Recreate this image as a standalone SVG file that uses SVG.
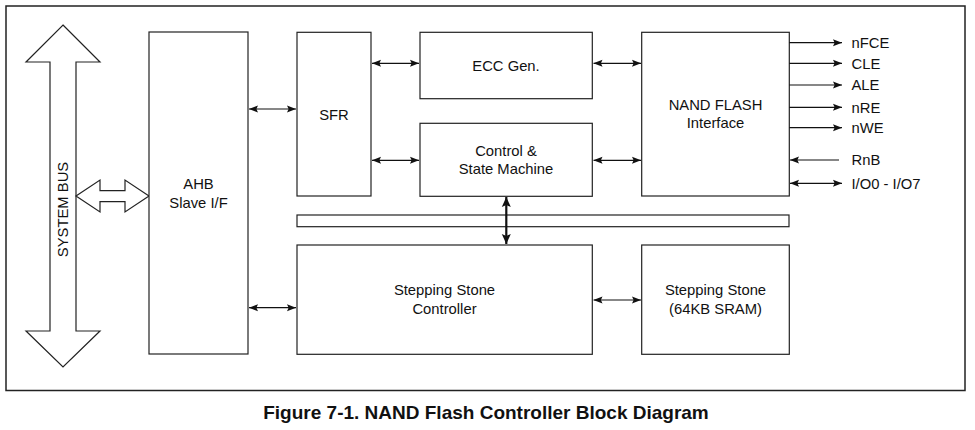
<svg xmlns="http://www.w3.org/2000/svg" width="975" height="430" viewBox="0 0 975 430">
<style>
.box{fill:#fff;stroke:#222;stroke-width:1.2}
.t{font-family:"Liberation Sans",Arial,sans-serif;font-size:14.8px;fill:#111;text-anchor:middle}
.s{font-family:"Liberation Sans",Arial,sans-serif;font-size:14.8px;fill:#111}
.ln{stroke:#111;stroke-width:1.2;fill:none}
.thick{stroke:#111;stroke-width:2.2;fill:none}
.cap{font-family:"Liberation Sans",Arial,sans-serif;font-size:19px;font-weight:bold;fill:#111;text-anchor:middle}
</style>
<defs>
<marker id="ah" markerUnits="userSpaceOnUse" markerWidth="9" markerHeight="9" viewBox="0 0 9 9" refX="9" refY="4.5" orient="auto-start-reverse">
<path d="M0,1 L9,4.5 L0,8 L1.6,4.5 Z" fill="#111"/>
</marker>
<marker id="ahb" markerUnits="userSpaceOnUse" markerWidth="10" markerHeight="10" viewBox="0 0 10 10" refX="10" refY="5" orient="auto-start-reverse">
<path d="M0,0.5 L10,5 L0,9.5 L2,5 Z" fill="#111"/>
</marker>
</defs>
<rect width="975" height="430" fill="#fff"/>
<rect x="6" y="6" width="959" height="384.5" fill="none" stroke="#222" stroke-width="1.5"/>

<g id="system-bus">
<path class="box" d="M63,25 L100,62 L76,62 L76,331 L100,331 L63,367 L26,331 L50,331 L50,62 L26,62 Z"/>
<text class="t" transform="translate(68.3,209.5) rotate(-90)">SYSTEM BUS</text>
</g>
<g id="bus-link">
<path class="box" d="M76,196 L100,180 L100,190.7 L125,190.7 L125,180 L149,196 L125,212 L125,201.7 L100,201.7 L100,212 Z"/>
</g>

<g id="ahb">
<rect class="box" x="149" y="32" width="99" height="322"/>
<text class="t" x="198.5" y="188.5">AHB</text>
<text class="t" x="198.5" y="207.5">Slave I/F</text>
</g>
<g id="sfr">
<rect class="box" x="297" y="32.3" width="74" height="163.7"/>
<text class="t" x="334" y="119.5">SFR</text>
</g>
<g id="ecc">
<rect class="box" x="420" y="32.3" width="172.3" height="66.4"/>
<text class="t" x="506" y="70.5">ECC Gen.</text>
</g>
<g id="control">
<rect class="box" x="420" y="123.3" width="172.3" height="73"/>
<text class="t" x="506" y="156">Control &amp;</text>
<text class="t" x="506" y="173.5">State Machine</text>
</g>
<g id="nand-if">
<rect class="box" x="641.7" y="32.3" width="147.6" height="163.7"/>
<text class="t" x="715.5" y="110.3">NAND FLASH</text>
<text class="t" x="715.5" y="127.5">Interface</text>
</g>
<g id="bus-bar">
<rect class="box" x="297" y="215" width="492" height="11.7"/>
</g>
<g id="ss-ctrl">
<rect class="box" x="297" y="245" width="295.3" height="109.3"/>
<text class="t" x="444.5" y="295.3">Stepping Stone</text>
<text class="t" x="444.5" y="313.5">Controller</text>
</g>
<g id="ss-sram">
<rect class="box" x="641.7" y="245" width="147.6" height="109.3"/>
<text class="t" x="715.5" y="295.3">Stepping Stone</text>
<text class="t" x="715.5" y="313.5">(64KB SRAM)</text>
</g>

<g id="connectors">
<line class="ln" x1="249" y1="109" x2="296" y2="109" marker-start="url(#ah)" marker-end="url(#ah)"/>
<line class="ln" x1="249" y1="307.7" x2="296" y2="307.7" marker-start="url(#ah)" marker-end="url(#ah)"/>
<line class="ln" x1="372" y1="63.3" x2="419" y2="63.3" marker-start="url(#ah)" marker-end="url(#ah)"/>
<line class="ln" x1="372" y1="160.3" x2="419" y2="160.3" marker-start="url(#ah)" marker-end="url(#ah)"/>
<line class="ln" x1="593.5" y1="63.3" x2="641" y2="63.3" marker-start="url(#ah)" marker-end="url(#ah)"/>
<line class="ln" x1="593.5" y1="160.3" x2="641" y2="160.3" marker-start="url(#ah)" marker-end="url(#ah)"/>
<line class="ln" x1="593.5" y1="300" x2="641" y2="300" marker-start="url(#ah)" marker-end="url(#ah)"/>
<line class="thick" x1="506.3" y1="197" x2="506.3" y2="244" marker-start="url(#ahb)" marker-end="url(#ahb)"/>
<line class="ln" x1="789.3" y1="42.7" x2="842" y2="42.7" marker-end="url(#ah)"/>
<line class="ln" x1="789.3" y1="63.3" x2="842" y2="63.3" marker-end="url(#ah)"/>
<line class="ln" x1="789.3" y1="85" x2="842" y2="85" marker-end="url(#ah)"/>
<line class="ln" x1="789.3" y1="107.3" x2="842" y2="107.3" marker-end="url(#ah)"/>
<line class="ln" x1="789.3" y1="127.7" x2="842" y2="127.7" marker-end="url(#ah)"/>
<line class="ln" x1="839" y1="160" x2="790" y2="160" marker-end="url(#ah)"/>
<line class="ln" x1="790" y1="183.3" x2="842" y2="183.3" marker-start="url(#ah)" marker-end="url(#ah)"/>
</g>

<g id="signal-labels">
<text class="s" x="851.5" y="48">nFCE</text>
<text class="s" x="851.5" y="68.6">CLE</text>
<text class="s" x="851.5" y="90.3">ALE</text>
<text class="s" x="851.5" y="112.6">nRE</text>
<text class="s" x="851.5" y="133">nWE</text>
<text class="s" x="851.5" y="165.3">RnB</text>
<text class="s" x="851.5" y="188.6">I/O0 - I/O7</text>
</g>

<text class="cap" x="486" y="418.5">Figure 7-1. NAND Flash Controller Block Diagram</text>
</svg>
